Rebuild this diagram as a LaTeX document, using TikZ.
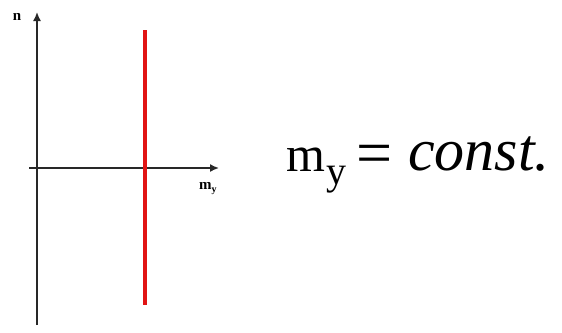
\documentclass[tikz,border=0pt]{standalone}
\usepackage{fontspec}
\setmainfont{Liberation Serif}
\usetikzlibrary{arrows.meta,positioning}
\definecolor{axisgray}{RGB}{40,40,40}
\definecolor{linered}{RGB}{225,20,20}
\begin{document}
\begin{tikzpicture}[x=1pt,y=-1pt,
  axis/.style={line width=1.6pt, axisgray, -{Latex[length=9pt,width=8pt]}},
  redline/.style={line width=3.8pt, linered},
  axlabel/.style={font=\fontsize{15}{15}\selectfont\bfseries, inner sep=0pt},
  eqpart/.style={anchor=base west, inner sep=0pt}
]
\useasboundingbox (0,0) rectangle (562,332);
% axes
\coordinate (ybot) at (37,325);
\coordinate (ytop) at (37,12);
\coordinate (xleft) at (29,168);
\coordinate (xright) at (219,168);
\draw[axis] (ybot) -- (ytop);
\draw[axis] (xleft) -- (xright);
\node[axlabel] (nlab) at (17,17) {n};
\node[axlabel, anchor=base west] (mlab) at (199,189)
  {m\raisebox{-0.2em}{\fontsize{10}{10}\selectfont y}};

% constant line
\coordinate (rtop) at (145,30);
\coordinate (rbot) at (145,305);
\draw[redline] (rtop) -- (rbot);

% formula
\node[eqpart, font=\fontsize{50}{50}\selectfont] (msym) at (286,171) {m};
\node[eqpart, font=\fontsize{40}{40}\selectfont] (msub) at (326,184) {y};
\node[eqpart, font=\fontsize{64}{64}\selectfont] (eqsign) at (356,174) {=};
\node[eqpart, font=\fontsize{60}{60}\selectfont\itshape] (constlab) at (408,170) {const.};
\end{tikzpicture}
\end{document}
